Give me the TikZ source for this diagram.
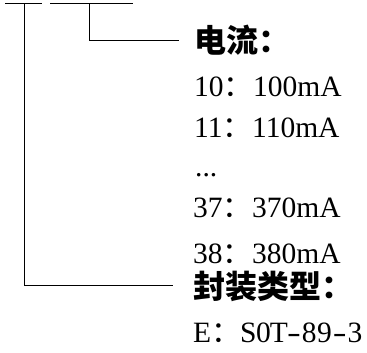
\documentclass[tikz,border=0pt]{standalone}
\usepackage{fontspec}
\setmainfont{Liberation Serif}
\newfontfamily\cjk{Noto Sans CJK SC}
\newcommand\fw[1]{\makebox[15.25pt][c]{#1}}
\begin{document}
\begin{tikzpicture}[x=1pt,y=-1pt,
  head/.style={anchor=base west,inner sep=0pt,font=\fontsize{32}{32}\cjk\bfseries},
  row/.style={anchor=base west,inner sep=0pt,font=\fontsize{29.5}{30}\selectfont},
  ln/.style={line width=1pt,black}]
\useasboundingbox (0,0) rectangle (367,353);
\coordinate (t1a) at (5,4);
\coordinate (t1b) at (42,4);
\coordinate (t2a) at (50,4);
\coordinate (t2b) at (133,4);
\coordinate (v1) at (24.5,4);
\coordinate (v2) at (89.5,4);
\node[head] (h1) at (194,53) {电流：};
\node[row] (r1) at (194,96) {10{\cjk ：}100mA};
\node[row] (r2) at (194,137) {11{\cjk ：}110mA};
\node[row] (r3) at (195,176) {...};
\node[row] (r4) at (193,217) {37{\cjk ：}370mA};
\node[row] (r5) at (193,263) {38{\cjk ：}380mA};
\node[head] (h2) at (193,298) {封装类型：};
\node[row] (r6) at (193,342) {E{\cjk ：}\fw{S}\fw{0}\fw{T}\fw{\scalebox{1.4}[1]{-}}\fw{8}\fw{9}\fw{\scalebox{1.4}[1]{-}}\fw{3}};
\draw[ln] (t1a) -- (t1b);
\draw[ln] (t2a) -- (t2b);
\draw[ln] (v2) |- ([xshift=-15pt]h1.west);
\draw[ln] (v1) |- ([xshift=-20pt]h2.west);
\end{tikzpicture}
\end{document}
